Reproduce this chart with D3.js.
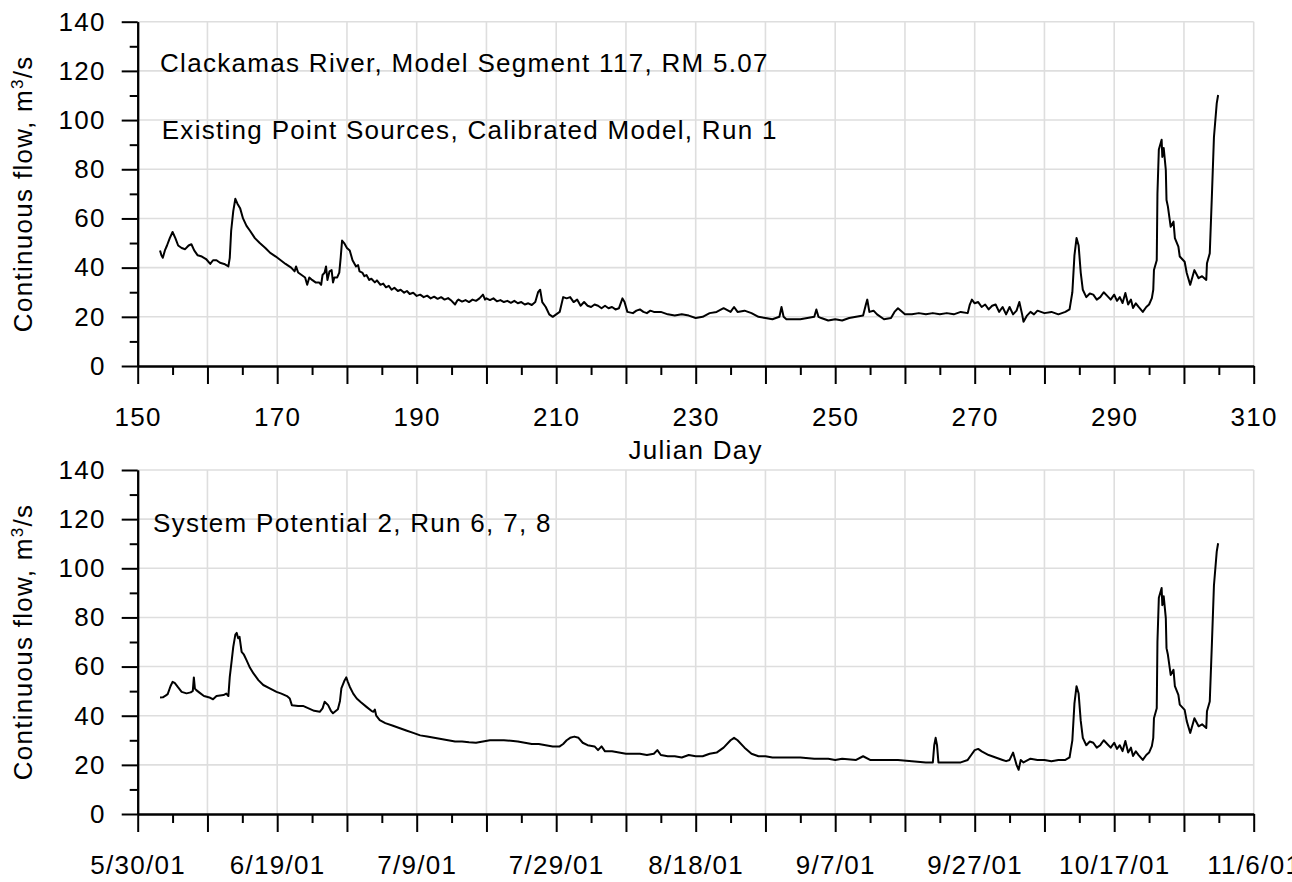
<!DOCTYPE html>
<html><head><meta charset="utf-8">
<script src="https://cdn.jsdelivr.net/npm/d3@7"></script>
<style>
body{margin:0;background:#fff}
text{font-family:"Liberation Sans",Arial,sans-serif;fill:#000}
</style>
</head><body>
<svg id="chart" width="1292" height="882"></svg>
<script>
// ---------- DATA: [Julian day, flow m3/s] ----------
const topSeries = [[153.2,47],[153.4,45],[153.6,44],[153.9,47],[154.2,49],[154.6,52],[155.0,54.5],[155.4,52],[155.8,49],[156.3,48],[156.8,47.5],[157.3,49],[157.7,49.5],[158.1,47],[158.6,45],[159.2,44.5],[159.8,43.5],[160.4,41.5],[160.8,43],[161.3,43],[161.8,42],[162.4,41.5],[163.0,40.5],[163.2,44],[163.4,55],[163.7,63],[164.0,68],[164.3,66],[164.7,64],[165.1,60],[165.6,57],[166.1,55],[166.8,52],[167.5,50],[168.3,48],[169.0,46],[169.8,44.5],[170.5,43],[171.2,41.5],[172.0,40],[172.5,38.5],[172.7,40.5],[173.0,38],[173.5,37],[174.0,36],[174.3,33],[174.6,36],[175.0,35],[175.5,34],[176.0,34],[176.3,33],[176.5,37],[176.8,38],[177.0,40.5],[177.2,35],[177.5,38.5],[177.8,39],[178.0,34],[178.2,36],[178.6,36],[178.9,38],[179.1,44],[179.3,51],[179.6,50],[180.0,48],[180.4,47],[180.8,43],[181.3,40.5],[181.6,41],[181.8,38.5],[182.2,38],[182.5,36.5],[182.8,37],[183.2,35],[183.5,35.5],[184.0,34],[184.3,34.8],[184.8,33],[185.2,33.5],[185.6,32],[186.0,32.6],[186.4,31],[186.8,31.8],[187.3,30.5],[187.7,31],[188.2,29.8],[188.6,30.5],[189.0,29.3],[189.5,29.8],[190.0,28.5],[190.5,29],[191.0,28],[191.5,28.6],[192.0,27.5],[192.5,28.2],[193.0,27.3],[193.5,28],[194.0,27],[194.5,27.6],[195.0,26.5],[195.5,25],[195.8,26.5],[196.0,27],[196.5,26.2],[197.0,26.8],[197.5,26],[198.0,27],[198.5,26.5],[199.0,27.5],[199.5,29],[199.8,27],[200.0,27.5],[200.5,26.8],[201.0,27.5],[201.5,26.3],[202.0,26.8],[202.5,26],[203.0,26.5],[203.5,25.7],[204.0,26.5],[204.5,25.5],[205.0,26],[205.5,25],[206.0,25.5],[206.5,24.8],[207.0,26],[207.4,30],[207.7,31],[208.0,26],[208.5,24],[209.0,21],[209.5,20],[210.0,21],[210.5,22],[211.0,28],[211.5,27.5],[212.0,28],[212.5,26],[213.0,27],[213.5,24.5],[214.0,26],[214.5,24.5],[215.0,24],[215.5,25],[216.0,24.5],[216.5,23.5],[217.0,24.5],[217.5,23.5],[218.0,24],[218.5,23],[219.0,23.5],[219.5,27.5],[219.8,26],[220.2,22],[221.0,21.5],[221.5,22.5],[222.0,23],[222.5,22],[223.0,21.5],[223.5,22.5],[224.0,22],[225.0,22],[226.0,21],[227.0,20.5],[228.0,21],[229.0,20.5],[230.0,19.5],[231.0,20],[232.0,21.5],[233.0,22],[234.0,23.5],[235.0,22],[235.5,24],[236.0,22],[237.0,22.5],[238.0,21.5],[239.0,20],[240.0,19.5],[241.0,19],[242.0,20],[242.3,24],[242.6,20],[243.0,19],[244.0,19],[245.0,19],[246.0,19.5],[247.0,20],[247.3,23],[247.6,20],[248.0,19.5],[249.0,18.5],[250.0,19],[251.0,18.5],[252.0,19.5],[253.0,20],[254.0,20.5],[254.4,25],[254.6,27],[254.9,22],[255.5,22.5],[256.0,21],[257.0,19],[258.0,19.5],[258.5,22],[259.0,23.5],[260.0,21],[261.0,21],[262.0,21.5],[263.0,21],[264.0,21.5],[265.0,21],[266.0,21.5],[267.0,21],[268.0,22],[269.0,21.5],[269.3,25],[269.6,27],[270.0,25.5],[270.5,26],[271.0,24],[271.5,25],[272.0,23],[272.5,24.5],[273.0,25],[273.5,22],[274.0,24],[274.5,21],[275.0,24],[275.5,21],[276.0,22.5],[276.4,26],[276.8,21],[277.0,18],[277.5,20.5],[278.0,22],[278.5,21],[279.0,22.5],[280.0,21.5],[281.0,22],[282.0,21],[283.0,22],[283.6,23],[284.0,30],[284.3,45],[284.6,52],[284.9,49],[285.2,38],[285.5,31],[286.0,28],[286.5,29.5],[287.0,29],[287.5,27],[288.0,28],[288.5,30],[289.0,28.5],[289.5,27],[290.0,29],[290.4,26.5],[290.8,28],[291.2,25.6],[291.6,29.7],[292.0,25],[292.4,27],[292.7,23.6],[293.1,25.5],[293.5,24],[294.1,22],[294.6,24],[295.0,25],[295.4,27.6],[295.6,31],[295.7,39],[296.1,43],[296.2,70],[296.4,88],[296.8,92],[296.9,85],[297.1,88.6],[297.4,79.7],[297.5,67.5],[297.7,64.8],[298.1,56.6],[298.5,58.7],[298.7,52],[299.2,48.5],[299.4,44.5],[300.1,42.4],[300.4,37.8],[300.9,33],[301.5,39],[302.1,35.7],[302.6,36.5],[303.2,35],[303.3,41.8],[303.7,45.8],[304.0,68.8],[304.3,93],[304.7,106.8],[304.9,110.2]];

const bottomSeries = [[153.2,47.4],[153.6,47.5],[154.0,48.2],[154.3,48.8],[154.7,52],[155.0,53.8],[155.3,53.4],[155.8,51.5],[156.3,49.7],[157.0,49.1],[157.6,49.5],[157.9,50.1],[158.05,55.6],[158.2,51],[158.4,50.4],[158.9,49.3],[159.5,48],[159.9,47.7],[160.4,47.3],[160.8,46.7],[161.3,48],[161.8,48.2],[162.3,48.4],[162.7,49],[163.0,48],[163.2,55.8],[163.5,63],[163.7,68],[164.0,73],[164.2,73.7],[164.4,71.5],[164.6,72.1],[164.9,66],[165.2,65],[165.6,62.6],[166.1,59.5],[166.6,57.2],[167.3,54.5],[168.0,52.5],[169.0,51],[169.9,49.7],[170.6,49],[171.4,48],[171.8,47],[172.1,44.3],[173.0,44],[173.7,44],[174.5,43],[175.3,42],[176.1,41.6],[176.5,43],[176.8,45.7],[177.3,44.3],[177.7,42],[178.0,41],[178.7,42.6],[179.0,46],[179.2,51.1],[179.6,54],[179.9,55.6],[180.1,54],[180.4,51.8],[180.9,49],[181.4,47],[182.0,45.5],[182.8,43.6],[183.5,42],[183.8,41.6],[184.0,42.5],[184.2,40],[184.7,38.2],[185.5,37],[186.6,35.9],[187.5,35],[188.5,34],[189.5,33],[190.5,32],[191.5,31.5],[192.5,31],[193.5,30.5],[194.5,30],[195.5,29.5],[196.5,29.5],[197.5,29.2],[198.5,29],[199.5,29.5],[200.5,30],[201.5,30],[202.5,30],[203.5,29.8],[204.5,29.5],[205.5,29],[206.5,28.5],[207.5,28.5],[208.5,28],[209.5,27.5],[210.5,27.5],[211.0,28.5],[211.5,30],[212.0,31],[212.6,31.5],[213.2,31],[213.8,29],[214.5,28],[215.5,27.5],[216.0,26],[216.5,27.5],[217.0,25.5],[218.0,25.5],[219.0,25],[220.0,24.5],[221.0,24.5],[222.0,24.5],[223.0,24],[224.0,24.5],[224.5,26],[225.0,24],[226.0,23.5],[227.0,23.5],[228.0,23],[229.0,24],[230.0,23.5],[231.0,23.5],[232.0,24.5],[233.0,25],[234.0,27],[235.0,30],[235.5,31],[236.0,30],[237.0,27],[238.0,24.5],[239.0,23.5],[240.0,23.5],[241.0,23],[242.0,23],[243.0,23],[245.0,23],[247.0,22.5],[249.0,22.5],[250.0,22],[251.0,22.5],[253.0,22],[254.0,23.5],[255.0,22],[257.0,22],[259.0,22],[261.0,21.5],[263.0,21],[264.0,21],[264.2,28],[264.4,31],[264.6,28],[264.8,21],[266.0,21],[268.0,21],[269.0,22],[269.5,24],[270.0,26],[270.5,26.5],[271.0,25.5],[272.0,24],[273.0,23],[274.0,22],[274.5,21.5],[275.0,22],[275.5,25],[276.0,20],[276.3,18],[276.6,22],[277.0,21],[278.0,22.5],[279.0,22],[280.0,22],[281.0,21.5],[282.0,22],[283.0,22],[283.6,23],[284.0,30],[284.3,45],[284.6,52],[284.9,49],[285.2,38],[285.5,31],[286.0,28],[286.5,29.5],[287.0,29],[287.5,27],[288.0,28],[288.5,30],[289.0,28.5],[289.5,27],[290.0,29],[290.4,26.5],[290.8,28],[291.2,25.6],[291.6,29.7],[292.0,25],[292.4,27],[292.7,23.6],[293.1,25.5],[293.5,24],[294.1,22],[294.6,24],[295.0,25],[295.4,27.6],[295.6,31],[295.7,39],[296.1,43],[296.2,70],[296.4,88],[296.8,92],[296.9,85],[297.1,88.6],[297.4,79.7],[297.5,67.5],[297.7,64.8],[298.1,56.6],[298.5,58.7],[298.7,52],[299.2,48.5],[299.4,44.5],[300.1,42.4],[300.4,37.8],[300.9,33],[301.5,39],[302.1,35.7],[302.6,36.5],[303.2,35],[303.3,41.8],[303.7,45.8],[304.0,68.8],[304.3,93],[304.7,106.8],[304.9,110.2]];

const yTickValues = [0,20,40,60,80,100,120,140];
const xLabelDays = [150,170,190,210,230,250,270,290,310];
const julianLabels = ["150","170","190","210","230","250","270","290","310"];
const dateLabels = ["5/30/01","6/19/01","7/9/01","7/29/01","8/18/01","9/7/01","9/27/01","10/17/01","11/6/01"];
const topNotes = ["Clackamas River, Model Segment 117, RM 5.07","Existing Point Sources, Calibrated Model, Run 1"];
const botNotes = ["System Potential 2, Run 6, 7, 8"];
const xTitle = "Julian Day";

// ---------- DRAW ----------
const svg = d3.select("#chart");
const FS = 26, LS = 1.3;
const x = d3.scaleLinear().domain([150,310]).range([137.7,1253.7]);

function panel(series, yr, labels, notes, noteY, noteX) {
  const y = d3.scaleLinear().domain([0,140]).range(yr);
  const g = svg.append("g");
  g.selectAll(".hg").data(d3.range(20,141,20)).join("line")
    .attr("x1",x(150)).attr("x2",x(310)).attr("y1",d=>y(d)).attr("y2",d=>y(d))
    .attr("stroke","#dedede").attr("stroke-width",1.6);
  g.selectAll(".vg").data(d3.range(160,311,10)).join("line")
    .attr("x1",d=>x(d)).attr("x2",d=>x(d)).attr("y1",y(0)).attr("y2",y(140))
    .attr("stroke","#dedede").attr("stroke-width",1.6);
  notes.forEach((t,i)=>{
    g.append("text").attr("x",noteX[i]).attr("y",noteY[i]).attr("font-size",FS)
      .attr("letter-spacing",LS).text(t);
  });
  const line = d3.line().x(d=>x(d[0])).y(d=>y(d[1]));
  g.append("path").datum(series).attr("d",line).attr("fill","none")
    .attr("stroke","#000").attr("stroke-width",2).attr("stroke-linejoin","round");
  const yMinor = g.append("g").attr("transform",`translate(${x(150)},0)`)
    .call(d3.axisLeft(y).tickValues(d3.range(10,140,20)).tickSize(8).tickSizeOuter(0).tickFormat(""));
  const yMajor = g.append("g").attr("transform",`translate(${x(150)},0)`)
    .call(d3.axisLeft(y).tickValues(yTickValues).tickSize(16).tickSizeOuter(0).tickPadding(16));
  const xMinor = g.append("g").attr("transform",`translate(0,${y(0)})`)
    .call(d3.axisBottom(x).tickValues(d3.range(155,310,10)).tickSize(9).tickSizeOuter(0).tickFormat(""));
  const xMajor = g.append("g").attr("transform",`translate(0,${y(0)})`)
    .call(d3.axisBottom(x).tickValues(d3.range(150,311,10)).tickSize(18).tickSizeOuter(0).tickPadding(24)
      .tickFormat(d=>{const k=xLabelDays.indexOf(d);return k>=0?labels[k]:"";}));
  [yMinor,yMajor,xMinor,xMajor].forEach(a=>{
    a.selectAll("path.domain").attr("stroke","#000").attr("stroke-width",2);
    a.selectAll(".tick line").attr("stroke","#000").attr("stroke-width",2);
    a.selectAll(".tick text").attr("font-size",FS).attr("letter-spacing",LS)
      .style("font-family",'"Liberation Sans",Arial,sans-serif').attr("fill","#000");
  });
  const t = g.append("text").attr("transform",`translate(31.5,${(yr[0]+yr[1])/2}) rotate(-90)`)
    .attr("text-anchor","middle").attr("font-size",FS).attr("letter-spacing",LS);
  t.append("tspan").text("Continuous flow, m");
  t.append("tspan").attr("font-size",17).attr("dy",-9).text("3");
  t.append("tspan").attr("font-size",FS).attr("dy",9).text("/s");
  return y;
}

panel(topSeries, [366,21.7], julianLabels, topNotes, [72,139], [160,161.7]);
panel(bottomSeries, [814,470], dateLabels, botNotes, [532], [153]);

svg.append("text").attr("x",695.7).attr("y",459).attr("text-anchor","middle")
  .attr("font-size",FS).attr("letter-spacing",LS).text(xTitle);
</script>
</body></html>
